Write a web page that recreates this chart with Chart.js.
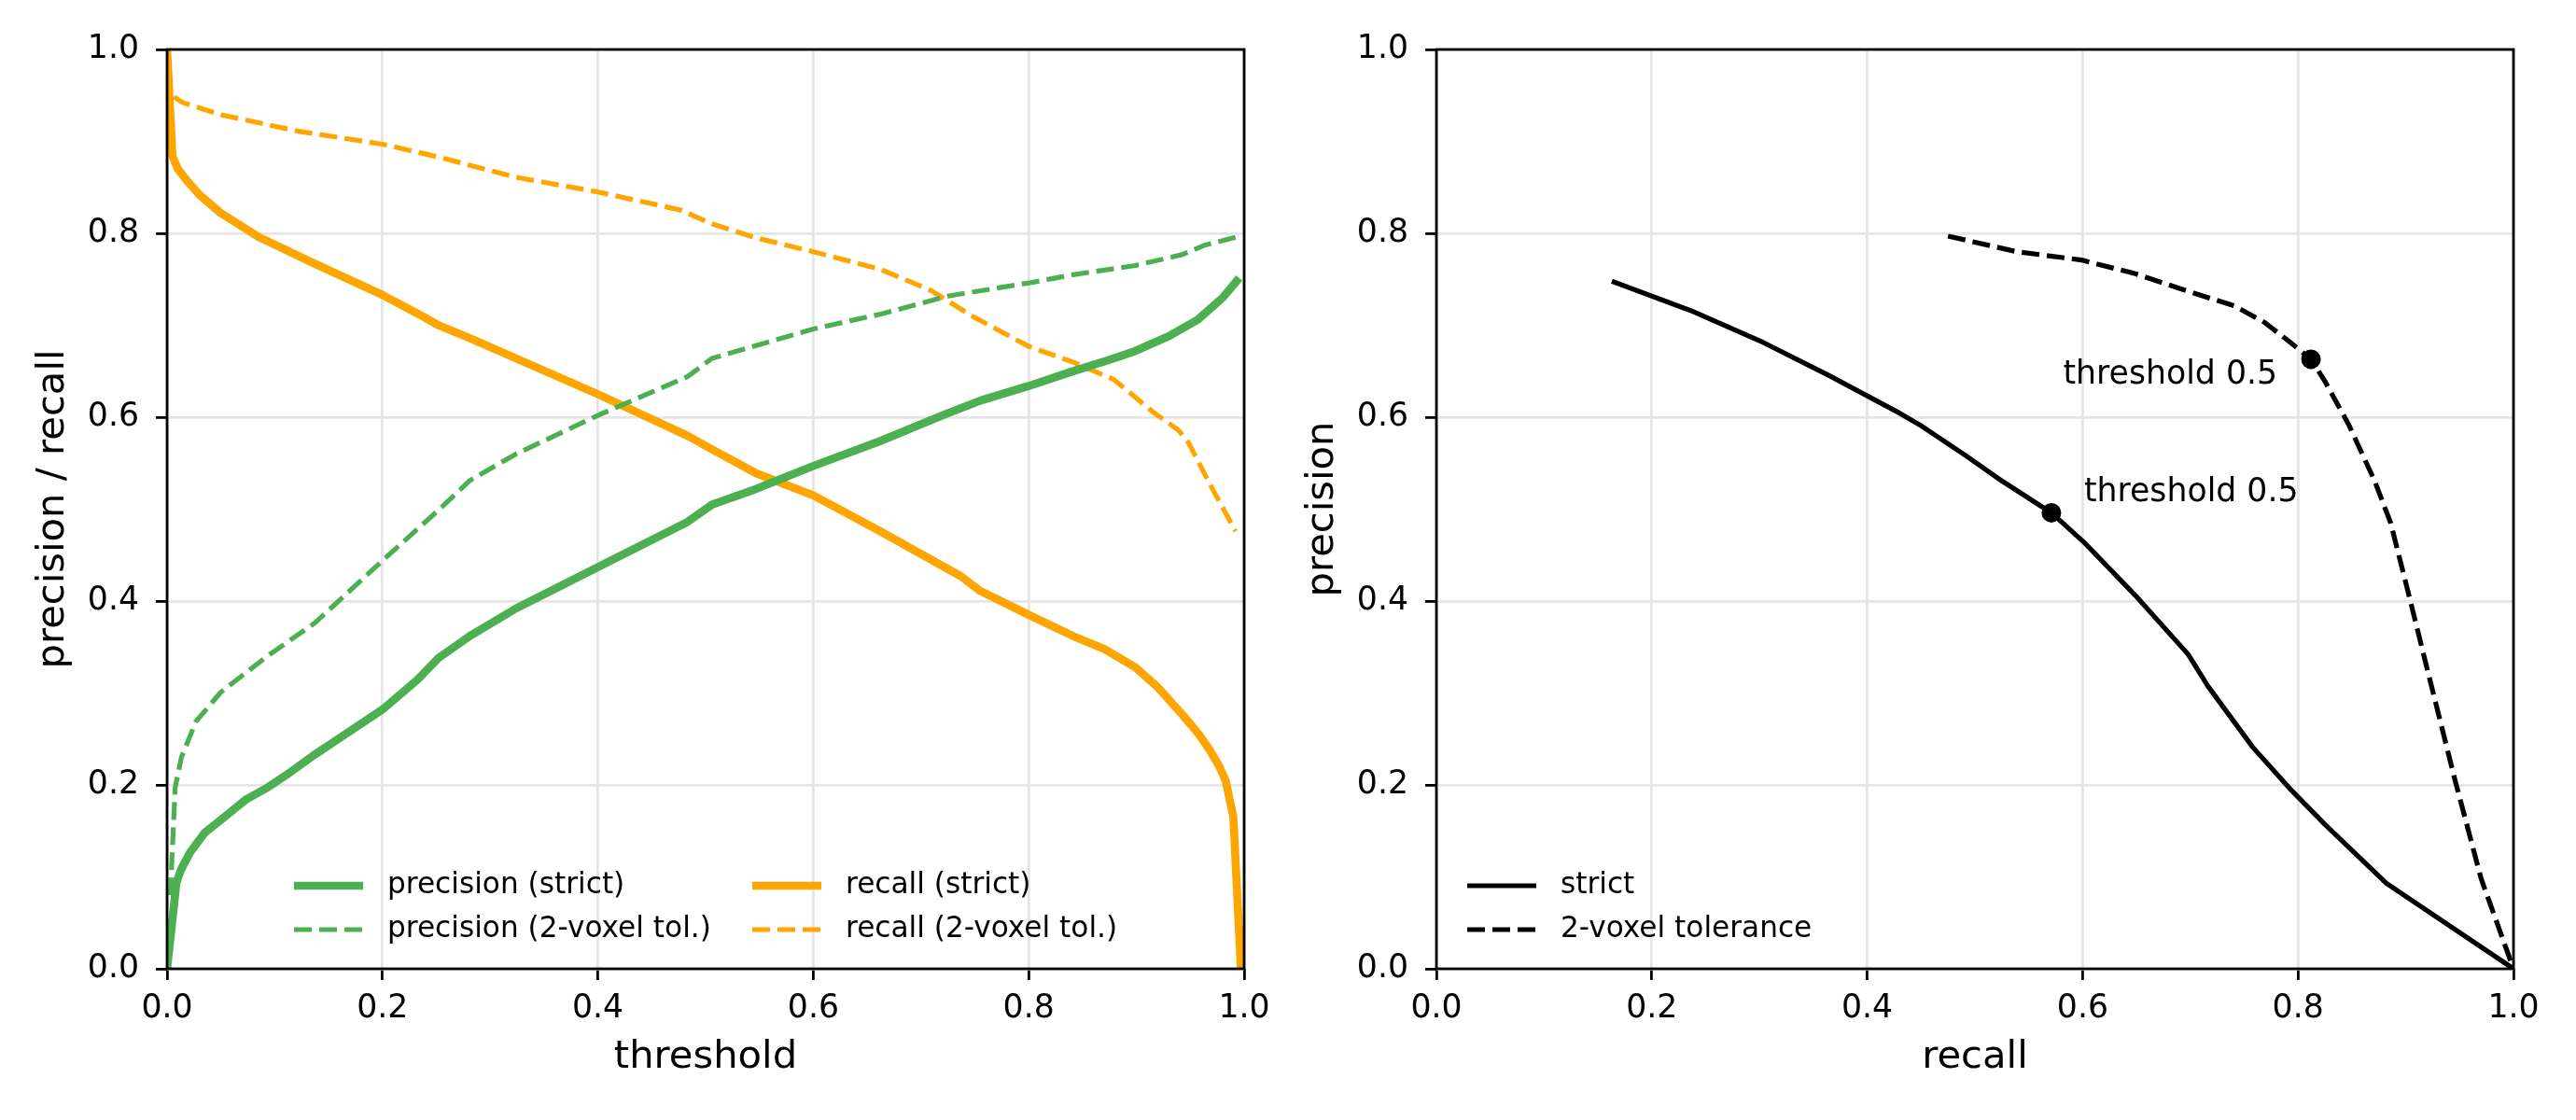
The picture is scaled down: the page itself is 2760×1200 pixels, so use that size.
<!DOCTYPE html>
<html>
<head>
<meta charset="utf-8">
<script src="https://cdn.jsdelivr.net/npm/chart.js@4.4.1/dist/chart.umd.min.js"></script>
<style>
  html, body { margin: 0; padding: 0; background: #fff; }
  #wrap { position: relative; width: 2760px; height: 1200px; }
  canvas { position: absolute; top: 0; }
  #left { left: 0; }
  #right { left: 1360px; }
</style>
</head>
<body>
<div id="wrap">
  <canvas id="left" width="1380" height="1200"></canvas>
  <canvas id="right" width="1400" height="1200"></canvas>
</div>
<script>
// ===== values =====
// left panel: threshold -> precision / recall
const precStrictT = [0, 0.0087, 0.013, 0.021, 0.035, 0.05, 0.073, 0.093, 0.111, 0.137, 0.15, 0.2, 0.232, 0.252, 0.281, 0.324, 0.4, 0.483, 0.506, 0.547, 0.6, 0.662, 0.72, 0.755, 0.8, 0.841, 0.874, 0.899, 0.93, 0.957, 0.98, 0.993];
const precStrictV = [0, 0.094, 0.108, 0.126, 0.148, 0.162, 0.184, 0.197, 0.211, 0.233, 0.243, 0.282, 0.314, 0.338, 0.362, 0.392, 0.437, 0.486, 0.505, 0.522, 0.547, 0.574, 0.602, 0.618, 0.634, 0.65, 0.662, 0.672, 0.688, 0.706, 0.73, 0.748];

const precTolT = [0.003, 0.0075, 0.0133, 0.0268, 0.05, 0.093, 0.137, 0.2, 0.252, 0.281, 0.324, 0.4, 0.483, 0.506, 0.547, 0.6, 0.662, 0.726, 0.8, 0.841, 0.899, 0.943, 0.963, 0.993];
const precTolV = [0.08, 0.197, 0.23, 0.269, 0.301, 0.34, 0.376, 0.444, 0.499, 0.531, 0.56, 0.602, 0.644, 0.664, 0.678, 0.696, 0.712, 0.732, 0.746, 0.755, 0.765, 0.777, 0.787, 0.796];

const recStrictT = [0, 0.005, 0.01, 0.018, 0.03, 0.05, 0.085, 0.137, 0.2, 0.24, 0.252, 0.281, 0.4, 0.483, 0.506, 0.547, 0.6, 0.662, 0.737, 0.755, 0.8, 0.841, 0.87, 0.899, 0.92, 0.943, 0.958, 0.968, 0.977, 0.983, 0.99, 0.997];
const recStrictV = [1.0, 0.884, 0.87, 0.858, 0.842, 0.822, 0.796, 0.767, 0.733, 0.708, 0.7, 0.686, 0.625, 0.58, 0.565, 0.539, 0.515, 0.476, 0.427, 0.411, 0.385, 0.362, 0.348, 0.328, 0.306, 0.276, 0.255, 0.238, 0.22, 0.204, 0.165, 0];

const recTolT = [0, 0.0015, 0.015, 0.05, 0.122, 0.2, 0.252, 0.324, 0.4, 0.478, 0.504, 0.547, 0.6, 0.662, 0.709, 0.749, 0.8, 0.841, 0.879, 0.916, 0.939, 0.948, 0.971, 0.992];
const recTolV = [1.0, 0.952, 0.942, 0.929, 0.911, 0.897, 0.883, 0.861, 0.845, 0.825, 0.811, 0.795, 0.78, 0.761, 0.738, 0.709, 0.677, 0.66, 0.641, 0.605, 0.586, 0.573, 0.521, 0.476];

// right panel: recall -> precision
const prStrictR = [0.165, 0.236, 0.304, 0.365, 0.426, 0.451, 0.493, 0.522, 0.571, 0.603, 0.649, 0.698, 0.716, 0.758, 0.794, 0.825, 0.882, 1.0];
const prStrictP = [0.747, 0.716, 0.681, 0.645, 0.607, 0.59, 0.557, 0.533, 0.496, 0.462, 0.406, 0.342, 0.308, 0.241, 0.194, 0.157, 0.093, 0.0];

const prTolR = [0.475, 0.539, 0.599, 0.649, 0.698, 0.741, 0.769, 0.79, 0.812, 0.825, 0.847, 0.871, 0.886, 0.903, 0.921, 0.946, 0.97, 1.0];
const prTolP = [0.797, 0.78, 0.771, 0.756, 0.737, 0.721, 0.703, 0.684, 0.663, 0.639, 0.592, 0.531, 0.485, 0.406, 0.321, 0.204, 0.098, 0.0];

// operating point at threshold 0.5 (recall, precision)
const opThreshold = 0.5;
const opStrict = [0.571, 0.496];
const opTol = [0.812, 0.663];

const axisTicks = [0, 0.2, 0.4, 0.6, 0.8, 1.0];

// ===== styling =====
const GREEN = '#4caf50';
const ORANGE = '#ffa500';
const BLACK = '#000000';
const THICK = 8.7;
const THIN = 5.2;
const DASH = [19, 8];

Chart.defaults.font.family = "'DejaVu Sans', sans-serif";
Chart.defaults.color = BLACK;

const pts = (xs, ys) => xs.map((x, i) => ({ x, y: ys[i] }));

function line(label, xs, ys, color, width, dashed) {
  return {
    label, data: pts(xs, ys), showLine: true, pointRadius: 0,
    borderColor: color, backgroundColor: color, borderWidth: width,
    borderDash: dashed ? DASH : [], borderJoinStyle: 'round',
    borderCapStyle: dashed ? 'butt' : 'square', clip: 0, tension: 0
  };
}

function axes(xTitle, yTitle) {
  const base = () => ({
    type: 'linear', min: 0, max: 1,
    afterBuildTicks: s => { s.ticks = axisTicks.map(v => ({ value: v })); },
    ticks: { font: { size: 34.7 }, color: BLACK, callback: v => Number(v).toFixed(1), maxRotation: 0, autoSkip: false },
    grid: { color: '#e5e5e5', lineWidth: 2.8, tickLength: 12, tickColor: BLACK, tickWidth: 2.8 },
    border: { display: false }
  });
  const x = base(), y = base();
  x.ticks.padding = 10;
  y.ticks.padding = 18;
  x.title = { display: true, text: xTitle, color: BLACK, font: { size: 41.7 }, padding: { top: 0, bottom: 42 } };
  y.title = { display: true, text: yTitle, color: BLACK, font: { size: 41.7 }, padding: { top: 32, bottom: 0 } };
  x.afterFit = s => { s.height = 162; };
  y.afterFit = s => { s.width = 179; };
  return { x, y };
}

// spines on all four sides
const framePlugin = {
  id: 'frame',
  afterDatasetsDraw(chart) {
    const { ctx, chartArea: a } = chart;
    ctx.save();
    ctx.strokeStyle = BLACK;
    ctx.lineWidth = 2.8;
    ctx.strokeRect(a.left, a.top, a.right - a.left, a.bottom - a.top);
    ctx.restore();
  }
};

// matplotlib-like legend without frame
const legendPlugin = {
  id: 'mplLegend',
  afterDraw(chart, args, opts) {
    const { ctx, chartArea: a } = chart;
    ctx.save();
    ctx.font = "31.2px 'DejaVu Sans', sans-serif";
    ctx.textBaseline = 'middle';
    ctx.fillStyle = BLACK;
    opts.items.forEach(it => {
      const ds = chart.data.datasets[it.dataset];
      const y = a.bottom - it.row;
      ctx.beginPath();
      ctx.strokeStyle = ds.borderColor;
      ctx.lineWidth = ds.borderWidth;
      ctx.setLineDash(ds.borderDash || []);
      ctx.moveTo(a.left + it.x, y);
      ctx.lineTo(a.left + it.x + 74, y);
      ctx.stroke();
      ctx.setLineDash([]);
      ctx.fillText(ds.label, a.left + it.x + 100, y);
    });
    ctx.restore();
  }
};

// "threshold 0.5" labels next to the operating points
const opLabelPlugin = {
  id: 'opLabels',
  afterDraw(chart, args, opts) {
    const { ctx } = chart;
    ctx.save();
    ctx.font = "34.7px 'DejaVu Sans', sans-serif";
    ctx.fillStyle = BLACK;
    ctx.textBaseline = 'alphabetic';
    opts.items.forEach(it => {
      const p = chart.getDatasetMeta(it.dataset).data[0];
      ctx.textAlign = it.align;
      ctx.fillText(`threshold ${opThreshold}`, p.x + it.dx, p.y + it.dy);
    });
    ctx.restore();
  }
};

// ===== left panel =====
new Chart(document.getElementById('left'), {
  type: 'scatter',
  data: {
    datasets: [
      line('precision (strict)', precStrictT, precStrictV, GREEN, THICK, false),
      line('precision (2-voxel tol.)', precTolT, precTolV, GREEN, THIN, true),
      line('recall (strict)', recStrictT, recStrictV, ORANGE, THICK, false),
      line('recall (2-voxel tol.)', recTolT, recTolV, ORANGE, THIN, true)
    ]
  },
  options: {
    responsive: false, animation: false, devicePixelRatio: 1,
    layout: { padding: { top: 53, right: 47, bottom: 0, left: 0 } },
    scales: axes('threshold', 'precision / recall'),
    plugins: {
      legend: { display: false }, tooltip: { enabled: false },
      mplLegend: { items: [
        { dataset: 0, x: 136, row: 89 },
        { dataset: 1, x: 136, row: 42 },
        { dataset: 2, x: 627, row: 89 },
        { dataset: 3, x: 627, row: 42 }
      ] }
    }
  },
  plugins: [framePlugin, legendPlugin]
});

// ===== right panel =====
new Chart(document.getElementById('right'), {
  type: 'scatter',
  data: {
    datasets: [
      line('strict', prStrictR, prStrictP, BLACK, THIN, false),
      line('2-voxel tolerance', prTolR, prTolP, BLACK, THIN, true),
      { label: 'op strict', data: [{ x: opStrict[0], y: opStrict[1] }], pointRadius: 10.5, backgroundColor: BLACK, borderWidth: 0, clip: 0 },
      { label: 'op tol', data: [{ x: opTol[0], y: opTol[1] }], pointRadius: 10.5, backgroundColor: BLACK, borderWidth: 0, clip: 0 }
    ]
  },
  options: {
    responsive: false, animation: false, devicePixelRatio: 1,
    layout: { padding: { top: 53, right: 67, bottom: 0, left: 0 } },
    scales: axes('recall', 'precision'),
    plugins: {
      legend: { display: false }, tooltip: { enabled: false },
      mplLegend: { items: [
        { dataset: 0, x: 33, row: 89 },
        { dataset: 1, x: 33, row: 42 }
      ] },
      opLabels: { items: [
        { dataset: 2, dx: 35, dy: -12, align: 'left' },
        { dataset: 3, dx: -36, dy: 26, align: 'right' }
      ] }
    }
  },
  plugins: [framePlugin, legendPlugin, opLabelPlugin]
});
</script>
</body>
</html>
